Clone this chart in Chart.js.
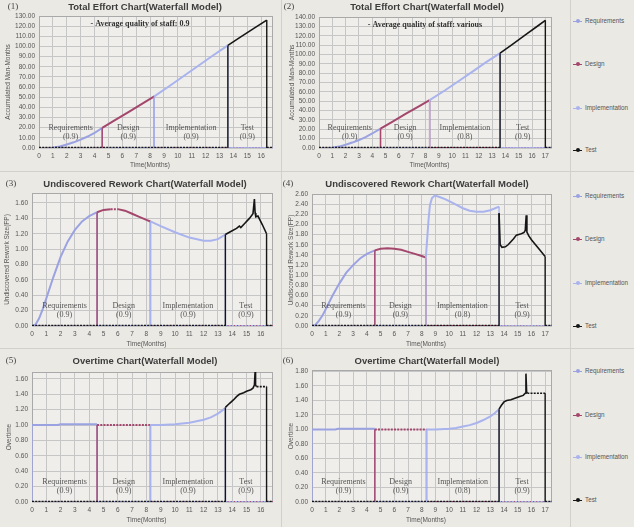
<!DOCTYPE html>
<html>
<head>
<meta charset="utf-8">
<script src="https://cdn.jsdelivr.net/npm/chart.js@4.4.0/dist/chart.umd.min.js"></script>
<style>
  body { margin: 0; width: 634px; height: 527px; overflow: hidden; position: relative;
         background: #ebe9e4; font-family: "Liberation Sans", Arial, sans-serif; }
  canvas { position: absolute; }
  .hsep { position: absolute; left: 0; width: 634px; height: 1px; background: #d3d0c9; }
  .vsep { position: absolute; top: 0; width: 1px; height: 527px; background: #d3d0c9; }
  .lg { position: absolute; left: 573px; font-size: 6.3px; color: #555; line-height: 8px; white-space: nowrap; }
  .lg i { display: inline-block; position: relative; width: 9px; height: 1px; margin-right: 3px; vertical-align: middle; }
  .lg i b { position: absolute; left: 2.5px; top: -2px; width: 4px; height: 4px; border-radius: 2px; }
</style>
</head>
<body>
<div class="vsep" style="left:281px"></div>
<div class="vsep" style="left:570px"></div>
<div class="hsep" style="top:171px"></div>
<div class="hsep" style="top:348px"></div>

<canvas id="c1" width="281" height="171" style="left:0;top:0"></canvas>
<canvas id="c2" width="288" height="171" style="left:282px;top:0"></canvas>
<canvas id="c3" width="281" height="176" style="left:0;top:172px"></canvas>
<canvas id="c4" width="288" height="176" style="left:282px;top:172px"></canvas>
<canvas id="c5" width="281" height="178" style="left:0;top:349px"></canvas>
<canvas id="c6" width="288" height="178" style="left:282px;top:349px"></canvas>

<div id="legend"></div>

<script>
// phases and staff quality per phase
const phaseNames = ['Requirements', 'Design', 'Implementation', 'Test'];
const qualityA = ['(0.9)', '(0.9)', '(0.9)', '(0.9)'];
const qualityB = ['(0.9)', '(0.9)', '(0.8)', '(0.9)'];
const phaseColors = ['#9ba2e2', '#a4476d', '#a9b3ee', '#161616'];

// (1) total effort, quality 0.9  -- [month, man-months]
const effortA_req = [[0,0],[0.5,0],[1,0.3],[1.5,1.5],[2,3.5],[2.5,5.6],[3,8.2],[3.5,11.3],[4,14.8],[4.55,19.8]];
const effortA_des = [[4.55,19.8],[5.5,27.6],[6.5,35.8],[7.5,44.2],[8.3,50.8]];
const effortA_imp = [[8.3,50.8],[9.5,62],[10.5,71.6],[11.5,81.2],[12.5,90.8],[13.6,101]];
const effortA_tst = [[13.6,101],[14.5,109.2],[15.5,118],[16.4,126]];

// (2) total effort, quality various
const effortB_req = [[0,0],[0.5,0],[1,0.3],[1.5,1.5],[2,3.5],[2.5,5.8],[3,8.5],[3.5,11.7],[4,15.5],[4.62,20.8]];
const effortB_des = [[4.62,20.8],[5.5,28],[6.5,36.4],[7.5,44.6],[8.31,51.2]];
const effortB_imp = [[8.31,51.2],[9.5,62],[10.5,71.6],[11.5,81.4],[12.5,91.2],[13.6,101.3]];
const effortB_tst = [[13.6,101.3],[14.5,110.5],[15.5,121],[16.5,131.2],[17,136.4]];

// (3) undiscovered rework, quality 0.9
const reworkA_req = [[0,0],[0.25,0.02],[0.5,0.1],[0.75,0.22],[1,0.36],[1.5,0.64],[2,0.9],[2.5,1.1],[3,1.25],[3.5,1.36],[4,1.43],[4.55,1.48]];
const reworkA_des = [[4.55,1.48],[5,1.51],[5.5,1.52],[6,1.52],[6.5,1.5],[7,1.46],[7.5,1.42],[8,1.38],[8.28,1.36]];
const reworkA_imp = [[8.28,1.36],[9,1.3],[10,1.22],[11,1.15],[12,1.11],[12.5,1.11],[13,1.13],[13.52,1.19]];
const reworkA_tst = [[13.52,1.19],[13.9,1.23],[14.3,1.27],[14.5,1.3],[14.6,1.28],[14.9,1.34],[15.2,1.4],[15.45,1.46],[15.55,1.65],[15.6,1.47],[15.65,1.42],[15.8,1.43],[16.1,1.32],[16.4,1.2]];

// (4) undiscovered rework, quality various
const reworkB_req = [[0,0],[0.25,0.02],[0.5,0.1],[0.75,0.2],[1,0.33],[1.5,0.6],[2,0.84],[2.5,1.05],[3,1.2],[3.5,1.33],[4,1.42],[4.58,1.49]];
const reworkB_des = [[4.58,1.49],[5,1.52],[5.5,1.53],[6,1.52],[6.5,1.5],[7,1.46],[7.5,1.42],[8,1.38],[8.3,1.35]];
const reworkB_imp = [[8.3,1.35],[8.4,1.72],[8.5,2.1],[8.6,2.38],[8.75,2.52],[8.95,2.57],[9.3,2.54],[9.7,2.5],[10,2.46],[10.5,2.39],[11,2.32],[11.5,2.27],[12,2.25],[12.5,2.25],[13,2.28],[13.64,2.35]];
const reworkB_tst = [[13.64,2.22],[13.72,1.6],[13.85,1.55],[14.1,1.56],[14.3,1.6],[14.5,1.66],[14.7,1.72],[14.9,1.79],[15.2,1.81],[15.45,1.84],[15.55,1.88],[15.62,2.18],[15.67,1.85],[15.8,1.78],[16,1.7],[16.3,1.6],[16.6,1.5],[16.85,1.42],[17,1.37]];

// (5) overtime, quality 0.9
const overA_req = [[0,1],[1.8,1],[2,1.01],[4.55,1.01]];
const overA_des = [[4.55,1],[8.28,1]];
const overA_imp = [[8.28,1],[9,1],[10,1.01],[10.5,1.02],[11,1.03],[11.5,1.05],[12,1.07],[12.5,1.1],[13,1.15],[13.52,1.22]];
const overA_tst = [[13.52,1.23],[13.8,1.28],[14.1,1.33],[14.3,1.37],[14.5,1.4],[14.8,1.42],[15,1.44],[15.3,1.46],[15.45,1.48],[15.55,1.52],[15.6,1.7],[15.63,1.52],[15.7,1.5],[16.4,1.5]];

// (6) overtime, quality various
const overB_req = [[0,1],[1.7,1],[1.9,1.01],[4.58,1.01]];
const overB_des = [[4.58,1],[8.35,1]];
const overB_imp = [[8.35,1],[9,1],[10,1.01],[10.5,1.02],[11,1.04],[11.5,1.06],[12,1.09],[12.5,1.13],[13,1.18],[13.3,1.22],[13.64,1.28]];
const overB_tst = [[13.64,1.28],[13.8,1.33],[14,1.38],[14.2,1.4],[14.5,1.41],[14.8,1.43],[15.1,1.45],[15.4,1.47],[15.55,1.5],[15.6,1.77],[15.65,1.52],[15.7,1.5],[17,1.5]];

// axis ranges and tick steps
const xMaxA = 16.85, xMaxB = 17.5;
const monthStep = 1;

const panels = [
  { id: 'c1', num: '(1)', title: 'Total Effort Chart(Waterfall Model)', note: '- Average quality of staff: 0.9',
    yTitle: 'Accumulated Man-Months', xMax: xMaxA, yMax: 130, yStep: 10, quality: qualityA,
    phases: [effortA_req, effortA_des, effortA_imp, effortA_tst],
    box: [39, 273, 16, 148], titleY: 7, numX: 13, noteX: 140, yTitleX: 8, xTitleY: 165 },
  { id: 'c2', num: '(2)', title: 'Total Effort Chart(Waterfall Model)', note: '- Average quality of staff: various',
    yTitle: 'Accumulated Man-Months', xMax: xMaxB, yMax: 140, yStep: 10, quality: qualityB,
    phases: [effortB_req, effortB_des, effortB_imp, effortB_tst],
    box: [37, 270, 17, 148], titleY: 7, numX: 7, noteX: 143, yTitleX: 10, xTitleY: 165 },
  { id: 'c3', num: '(3)', title: 'Undiscovered Rework Chart(Waterfall Model)', note: null,
    yTitle: 'Undiscovered Rework Size(FP)', xMax: xMaxA, yMax: 1.73, yStep: 0.2, quality: qualityA,
    phases: [reworkA_req, reworkA_des, reworkA_imp, reworkA_tst],
    box: [32, 273, 21, 154], titleY: 12, numX: 11, noteX: 0, yTitleX: 7, xTitleY: 172 },
  { id: 'c4', num: '(4)', title: 'Undiscovered Rework Chart(Waterfall Model)', note: null,
    yTitle: 'Undiscovered Rework Size(FP)', xMax: xMaxB, yMax: 2.6, yStep: 0.2, quality: qualityB,
    phases: [reworkB_req, reworkB_des, reworkB_imp, reworkB_tst],
    box: [30, 270, 22, 154], titleY: 12, numX: 6, noteX: 0, yTitleX: 9, xTitleY: 172 },
  { id: 'c5', num: '(5)', title: 'Overtime Chart(Waterfall Model)', note: null,
    yTitle: 'Overtime', xMax: xMaxA, yMax: 1.69, yStep: 0.2, quality: qualityA,
    phases: [overA_req, overA_des, overA_imp, overA_tst],
    box: [32, 273, 23, 153], titleY: 12, numX: 11, noteX: 0, yTitleX: 9, xTitleY: 171 },
  { id: 'c6', num: '(6)', title: 'Overtime Chart(Waterfall Model)', note: null,
    yTitle: 'Overtime', xMax: xMaxB, yMax: 1.82, yStep: 0.2, quality: qualityB,
    phases: [overB_req, overB_des, overB_imp, overB_tst],
    box: [30, 270, 21, 153], titleY: 12, numX: 6, noteX: 0, yTitleX: 9, xTitleY: 171 }
];

// series is zero outside its phase: jump up at start, drop at end
function phaseSeries(pts, xMax) {
  const start = pts[0][0], end = pts[pts.length - 1][0];
  const out = [];
  if (start > 0) out.push({ x: 0, y: 0 });
  out.push({ x: start, y: 0 });
  pts.forEach(p => out.push({ x: p[0], y: p[1] }));
  out.push({ x: end, y: 0 });
  if (end < xMax) out.push({ x: xMax, y: 0 });
  return out;
}

// whole multiples of step between 0 and max
function stepTicks(max, step) {
  const t = [];
  for (let i = 0; i * step <= max + 1e-9; i++) t.push({ value: +(i * step).toFixed(4) });
  return t;
}

const panelText = {
  id: 'panelText',
  beforeDraw(chart) {
    const { ctx, chartArea: a } = chart;
    ctx.save();
    ctx.fillStyle = '#efeeea';
    ctx.fillRect(a.left, a.top, a.width, a.height);
    ctx.restore();
  },
  beforeDatasetsDraw(chart) {
    const { ctx, chartArea: a } = chart;
    ctx.save();
    ctx.strokeStyle = '#a9a9a9';
    ctx.lineWidth = 1;
    ctx.strokeRect(a.left + 0.5, a.top + 0.5, a.width - 1, a.height - 1);
    ctx.restore();
  },
  afterDraw(chart, args, o) {
    const { ctx, chartArea: a } = chart;
    const x = chart.scales.x;
    ctx.save();
    ctx.textAlign = 'center';
    ctx.textBaseline = 'middle';
    ctx.fillStyle = '#444';
    ctx.font = '9px "Liberation Serif", serif';
    ctx.fillText(o.num, o.numX, o.titleY);
    ctx.fillStyle = '#3c3c3c';
    ctx.font = 'bold 9.5px "Liberation Sans", Arial, sans-serif';
    ctx.fillText(o.title, 145, o.titleY);
    if (o.note) {
      ctx.fillStyle = '#333';
      ctx.font = 'bold 8px "Liberation Serif", serif';
      ctx.fillText(o.note, o.noteX, a.top + 8);
    }
    ctx.fillStyle = '#555';
    ctx.font = '8px "Liberation Serif", serif';
    o.phases.forEach((p, i) => {
      const px = x.getPixelForValue((p[0][0] + p[p.length - 1][0]) / 2);
      ctx.fillText(phaseNames[i], px, a.bottom - 20);
      ctx.fillText(o.quality[i], px, a.bottom - 11);
    });
    ctx.font = '6.5px "Liberation Sans", Arial, sans-serif';
    ctx.fillText('Time(Months)', (a.left + a.right) / 2 - 6, o.xTitleY);
    ctx.translate(o.yTitleX, (a.top + a.bottom) / 2);
    ctx.rotate(-Math.PI / 2);
    ctx.fillText(o.yTitle, 0, 0);
    ctx.restore();
  }
};

const tickFont = { family: '"Liberation Sans", Arial, sans-serif', size: 6.5 };

panels.forEach(p => {
  const [L, R, T, B] = p.box;
  const canvas = document.getElementById(p.id);
  const W = canvas.width, H = canvas.height;
  const datasets = p.phases.map((pts, i) => {
    const dashFlat = (i === 1 || i === 3);
    return {
      label: phaseNames[i],
      data: phaseSeries(pts, p.xMax),
      borderColor: phaseColors[i],
      borderWidth: i === 3 ? 1.6 : 2,
      pointRadius: 0,
      tension: 0,
      order: 3 - i,
      segment: {
        borderDash: c => (c.p0.parsed.y === c.p1.parsed.y && (dashFlat || c.p0.parsed.y === 0)) ? [2, 1.2] : undefined,
        borderWidth: c => (c.p0.parsed.y === 0 && c.p1.parsed.y === 0) ? (i === 3 ? 2.6 : 2) :
                          (c.p0.parsed.x === c.p1.parsed.x ? 1.4 : undefined)
      }
    };
  });

  new Chart(canvas, {
    type: 'line',
    data: { datasets: datasets },
    options: {
      responsive: false,
      animation: false,
      layout: { padding: { top: T, right: W - R, left: 0, bottom: 0 } },
      plugins: {
        legend: { display: false },
        tooltip: { enabled: false },
        panelText: p
      },
      scales: {
        x: {
          type: 'linear', min: 0, max: p.xMax,
          afterFit: s => { s.height = H - B; },
          afterBuildTicks: s => { s.ticks = stepTicks(p.xMax, monthStep); },
          ticks: { padding: 4, color: '#555', font: tickFont, maxRotation: 0, autoSkip: false },
          grid: { color: '#c6c6c6', drawTicks: false },
          border: { display: false }
        },
        y: {
          min: 0, max: p.yMax,
          afterFit: s => { s.width = L; },
          afterBuildTicks: s => { s.ticks = stepTicks(p.yMax, p.yStep); },
          ticks: { padding: 4, color: '#555', font: tickFont, autoSkip: false, callback: v => v.toFixed(2) },
          grid: { color: '#c6c6c6', drawTicks: false },
          border: { display: false }
        }
      }
    },
    plugins: [panelText]
  });
});

// legend column, one block per row of charts
const legendRows = [[21, 64, 108, 150], [196, 239, 283, 326], [371, 415, 457, 500]];
const legend = document.getElementById('legend');
legendRows.forEach(row => {
  row.forEach((y, i) => {
    const d = document.createElement('div');
    d.className = 'lg';
    d.style.top = (y - 4) + 'px';
    d.innerHTML = '<i style="background:' + phaseColors[i] + '"><b style="background:' + phaseColors[i] + '"></b></i>' + phaseNames[i];
    legend.appendChild(d);
  });
});
</script>
</body>
</html>
